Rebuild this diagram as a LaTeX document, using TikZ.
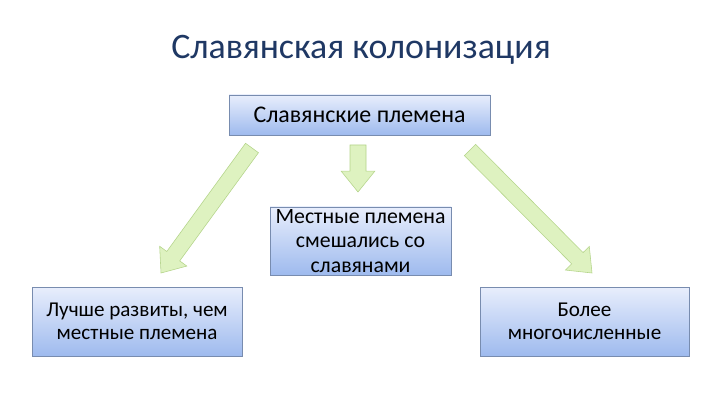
\documentclass[tikz,border=0pt]{standalone}
\usepackage{fontspec}
\setmainfont{Carlito}
\usepackage{tikz}
\usetikzlibrary{positioning, calc}

\definecolor{titleblue}{RGB}{31,56,100}
\definecolor{boxtop}{RGB}{232,238,252}
\definecolor{boxbottom}{RGB}{158,186,238}
\definecolor{boxline}{RGB}{120,140,175}
\definecolor{arrowfill}{RGB}{222,242,192}
\definecolor{arrowline}{RGB}{180,212,138}

\newcommand{\shaftw}{0.2cm}
\newcommand{\headw}{0.42cm}
\newcommand{\headl}{0.52cm}

% block arrow from one named point to another
\newcommand{\blockarrow}[2]{%
  \coordinate (h) at ($(#2)!\headl!(#1)$);
  \draw[fatarrow] ($(#1)!\shaftw!90:(#2)$) -- ($(h)!\shaftw!90:(#2)$)
    -- ($(h)!\headw!90:(#2)$) -- (#2) -- ($(h)!\headw!-90:(#2)$)
    -- ($(h)!\shaftw!-90:(#2)$) -- ($(#1)!\shaftw!-90:(#2)$) -- cycle;
}

\begin{document}
\begin{tikzpicture}[x=0.025cm, y=-0.025cm,
  box/.style={draw=boxline, top color=boxtop, bottom color=boxbottom,
    align=center, inner sep=0pt, text=black},
  fatarrow/.style={draw=arrowline, fill=arrowfill, line join=miter}]
  \useasboundingbox (0,0) rectangle (720,405);

  % Title
  \node[text=titleblue, font=\fontsize{25.5}{29}\selectfont] (title) at (361,50) {Славянская колонизация};

  % Boxes
  \node[box, minimum width=261*0.025cm, minimum height=40*0.025cm,
    font=\fontsize{17}{20}\selectfont] (slav) at (359.5,115) {Славянские племена};
  \node[box, minimum width=181*0.025cm, minimum height=68*0.025cm,
    font=\fontsize{15.5}{17.2}\selectfont] (mixed) at (360.5,241) {Местные племена\\смешались со\\славянами};
  \node[box, minimum width=210*0.025cm, minimum height=69*0.025cm,
    font=\fontsize{15}{16}\selectfont] (better) at (137,321.5) {Лучше развиты, чем\\местные племена};
  \node[box, minimum width=209*0.025cm, minimum height=69*0.025cm,
    font=\fontsize{15}{16}\selectfont] (many) at (584.5,321.5) {Более\\многочисленные};

  % Arrow ends
  \coordinate (ls) at (252,148);
  \coordinate (le) at (161,273);
  \coordinate (ms) at (358,145);
  \coordinate (me) at (358,192);
  \coordinate (rs) at (470,150);
  \coordinate (re) at (592,273);

  % Arrows
  \blockarrow{ls}{le}
  \blockarrow{ms}{me}
  \blockarrow{rs}{re}
\end{tikzpicture}
\end{document}
